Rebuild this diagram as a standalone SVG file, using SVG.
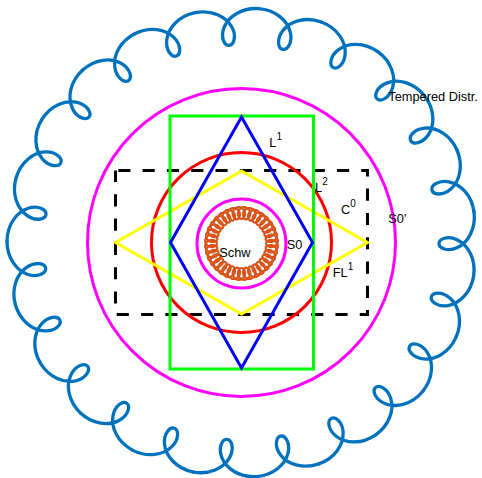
<svg xmlns="http://www.w3.org/2000/svg" width="482" height="478" viewBox="0 0 482 478">
<style>
.ln{fill:none;stroke-linejoin:round;stroke-linecap:round}
.lbl{font-family:"Liberation Sans",Arial,sans-serif;font-size:12.8px;fill:#000}
.sup{font-size:10px}
</style>
<defs>
<path id="coil" class="ln" d="M-31.931,-232.316 C-24.078,-233.395 -15.969,-232.042 -9.591,-228.881 C-3.213,-225.720 1.374,-220.852 3.748,-215.967 C6.122,-211.082 6.358,-206.248 5.360,-202.848 C4.362,-199.448 2.180,-197.5 0,-197.5 C-2.180,-197.5 -4.362,-199.448 -5.360,-202.848 C-6.358,-206.248 -6.122,-211.082 -3.748,-215.967 C-1.374,-220.852 3.213,-225.720 9.591,-228.881 C15.969,-232.042 24.078,-233.395 31.931,-232.316"/>
<path id="curl" class="ln" d="M-3.181,-36.361 C0.469,-36.680 3.596,-33.452 3.660,-30.280 C3.723,-27.108 1.747,-24.5 0,-24.5 C-1.747,-24.5 -3.723,-27.108 -3.660,-30.280 C-3.596,-33.452 -0.469,-36.680 3.181,-36.361"/>
</defs>
<rect width="482" height="478" fill="#fff"/>
<g id="tempered-distr" transform="translate(241.5,242.5)" stroke="#0072BD" stroke-width="3.3" fill="none">
<use href="#coil" transform="rotate(-3.6)"/>
<use href="#coil" transform="rotate(12.052)"/>
<use href="#coil" transform="rotate(27.704)"/>
<use href="#coil" transform="rotate(43.357)"/>
<use href="#coil" transform="rotate(59.009)"/>
<use href="#coil" transform="rotate(74.661)"/>
<use href="#coil" transform="rotate(90.313)"/>
<use href="#coil" transform="rotate(105.965)"/>
<use href="#coil" transform="rotate(121.617)"/>
<use href="#coil" transform="rotate(137.270)"/>
<use href="#coil" transform="rotate(152.922)"/>
<use href="#coil" transform="rotate(168.574)"/>
<use href="#coil" transform="rotate(184.226)"/>
<use href="#coil" transform="rotate(199.878)"/>
<use href="#coil" transform="rotate(215.530)"/>
<use href="#coil" transform="rotate(231.183)"/>
<use href="#coil" transform="rotate(246.835)"/>
<use href="#coil" transform="rotate(262.487)"/>
<use href="#coil" transform="rotate(278.139)"/>
<use href="#coil" transform="rotate(293.791)"/>
<use href="#coil" transform="rotate(309.443)"/>
<use href="#coil" transform="rotate(325.096)"/>
<use href="#coil" transform="rotate(340.748)"/>
</g>
<g id="s0-prime">
<circle cx="241.5" cy="242.5" r="154" fill="none" stroke="#FF00FF" stroke-width="3"/>
</g>
<g id="dashed-box">
<path d="M115.5,170.5 H367.5 V314.5 H115.5 Z" fill="none" stroke="#000" stroke-width="3" stroke-dasharray="12.15 12.15" stroke-dashoffset="21.5"/>
</g>
<g id="l2-circle">
<circle cx="241.5" cy="242.5" r="90" fill="none" stroke="#FF0000" stroke-width="3"/>
</g>
<g id="fl1-diamond">
<path d="M241.5,171 L367.5,242.5 L241.5,314 L115.5,242.5 Z" fill="none" stroke="#FFFF00" stroke-width="3" stroke-linejoin="miter"/>
</g>
<g id="green-box">
<rect x="170" y="116" width="143.5" height="253" fill="none" stroke="#00FF00" stroke-width="3"/>
</g>
<g id="l1-diamond">
<path d="M241.5,117 L312.5,242.5 L241.5,368 L170.5,242.5 Z" fill="none" stroke="#0000FF" stroke-width="3" stroke-linejoin="miter"/>
</g>
<g id="s0-circle">
<circle cx="241.5" cy="243.5" r="44.5" fill="none" stroke="#FF00FF" stroke-width="3"/>
</g>
<g id="schwartz" transform="translate(241.5,243.5)" stroke="#D95319" stroke-width="2.2" fill="none">
<use href="#curl" transform="rotate(0)"/>
<use href="#curl" transform="rotate(10)"/>
<use href="#curl" transform="rotate(20)"/>
<use href="#curl" transform="rotate(30)"/>
<use href="#curl" transform="rotate(40)"/>
<use href="#curl" transform="rotate(50)"/>
<use href="#curl" transform="rotate(60)"/>
<use href="#curl" transform="rotate(70)"/>
<use href="#curl" transform="rotate(80)"/>
<use href="#curl" transform="rotate(90)"/>
<use href="#curl" transform="rotate(100)"/>
<use href="#curl" transform="rotate(110)"/>
<use href="#curl" transform="rotate(120)"/>
<use href="#curl" transform="rotate(130)"/>
<use href="#curl" transform="rotate(140)"/>
<use href="#curl" transform="rotate(150)"/>
<use href="#curl" transform="rotate(160)"/>
<use href="#curl" transform="rotate(170)"/>
<use href="#curl" transform="rotate(180)"/>
<use href="#curl" transform="rotate(190)"/>
<use href="#curl" transform="rotate(200)"/>
<use href="#curl" transform="rotate(210)"/>
<use href="#curl" transform="rotate(220)"/>
<use href="#curl" transform="rotate(230)"/>
<use href="#curl" transform="rotate(240)"/>
<use href="#curl" transform="rotate(250)"/>
<use href="#curl" transform="rotate(260)"/>
<use href="#curl" transform="rotate(270)"/>
<use href="#curl" transform="rotate(280)"/>
<use href="#curl" transform="rotate(290)"/>
<use href="#curl" transform="rotate(300)"/>
<use href="#curl" transform="rotate(310)"/>
<use href="#curl" transform="rotate(320)"/>
<use href="#curl" transform="rotate(330)"/>
<use href="#curl" transform="rotate(340)"/>
<use href="#curl" transform="rotate(350)"/>
</g>
<g id="labels">
<text class="lbl" x="388.3" y="101">Tempered Distr.</text>
<text class="lbl" x="388.3" y="222.7">S0'</text>
<text class="lbl" x="269.3" y="146.7">L<tspan class="sup" dy="-7">1</tspan></text>
<text class="lbl" x="315" y="191.7">L<tspan class="sup" dy="-7">2</tspan></text>
<text class="lbl" x="341" y="214">C<tspan class="sup" dy="-7">0</tspan></text>
<text class="lbl" x="332.7" y="276.7">FL<tspan class="sup" dy="-7">1</tspan></text>
<text class="lbl" x="286.7" y="248.5">S0</text>
<text class="lbl" x="219.3" y="257">Schw</text>
</g>
</svg>
